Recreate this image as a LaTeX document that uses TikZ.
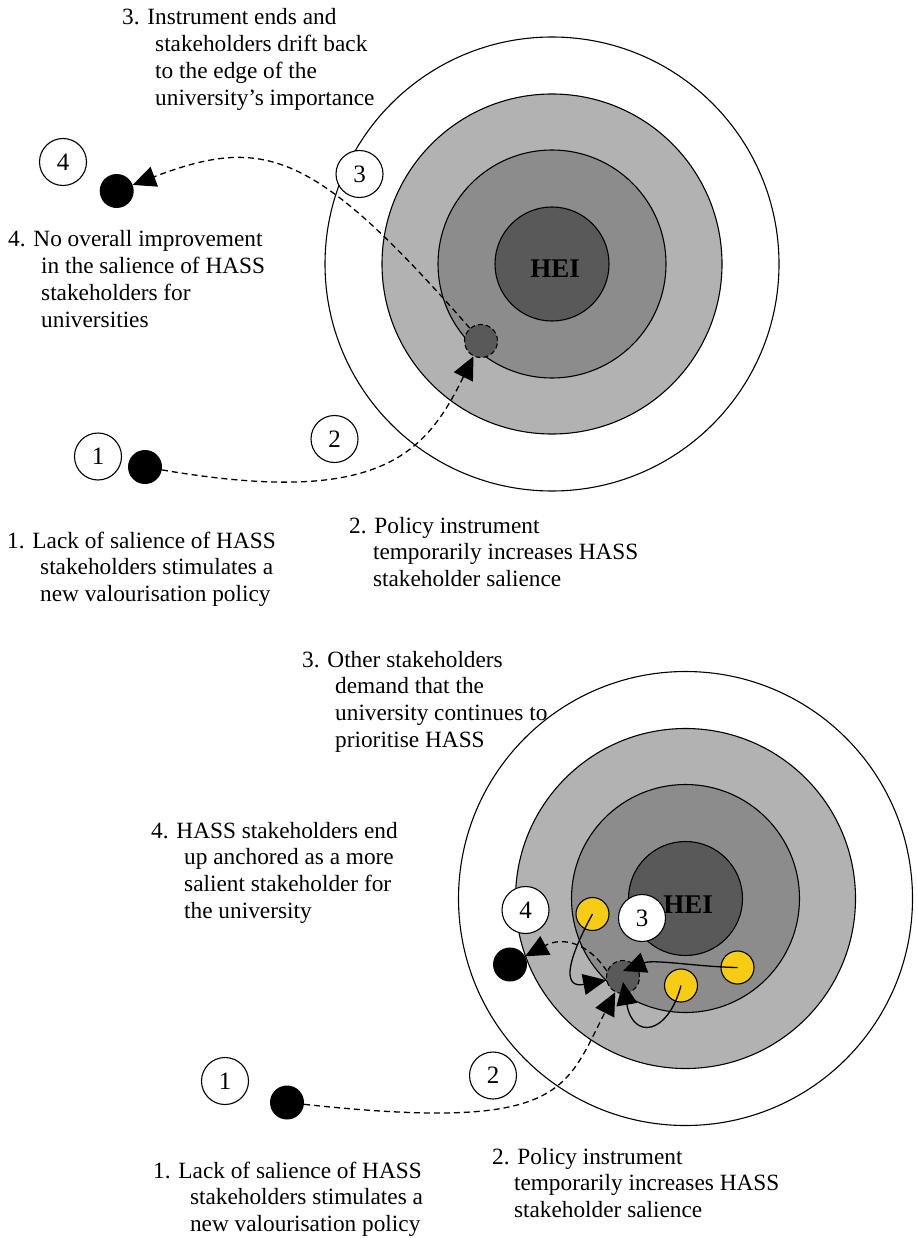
\documentclass[tikz,border=0pt]{standalone}
\usepackage{fontspec}
\setmainfont{Liberation Serif}
\usepackage{tikz}
\usetikzlibrary{arrows.meta}
\definecolor{ringlight}{gray}{0.70}
\definecolor{ringmid}{gray}{0.55}
\definecolor{ringcore}{gray}{0.35}
\definecolor{stakeyellow}{RGB}{247,204,21}
\newcommand{\ind}[1][33pt]{\hspace*{#1}}
\tikzset{
    ring/.style={shape=circle, draw=black, line width=1.1pt, inner sep=0pt},
    numbox/.style={shape=circle, draw=black, fill=white, line width=1.1pt, minimum size=47pt, inner sep=0pt, font=\fontsize{25}{25}\selectfont},
    blob/.style={shape=circle, fill=black, minimum size=34pt, inner sep=0pt},
    moved/.style={shape=circle, draw=black, dash pattern=on 5pt off 3pt, fill=ringcore, minimum size=33pt, inner sep=0pt, line width=1.1pt},
    yellowdot/.style={shape=circle, draw=black, fill=stakeyellow, minimum size=33pt, inner sep=0pt, line width=1.1pt},
    notes/.style={anchor=base west, align=left, inner sep=0pt, font=\fontsize{23.3}{26.8}\selectfont},
    heilabel/.style={anchor=base, inner sep=0pt, font=\fontsize{27}{27}\selectfont\bfseries},
    drift/.style={dash pattern=on 6pt off 4pt, line width=1.3pt, -{Triangle[length=23pt,width=21pt]}},
    pull/.style={line width=1.3pt, -{Triangle[length=23pt,width=21pt]}}
}

\begin{document}
\begin{tikzpicture}[x=1pt, y=-1pt]
        \useasboundingbox (0,0) rectangle (916,1238);

            \node[ring, minimum size=454pt] (outerT) at (552,264) {};
            \node[ring, fill=ringlight, minimum size=340pt] (lightT) at (552,264) {};
            \node[ring, fill=ringmid, minimum size=228pt] (midT) at (552,264) {};
            \node[ring, fill=ringcore, minimum size=114pt] (coreT) at (552,264) {};
            \node[heilabel] (heiT) at (555,278) {HEI};
            \node[moved] (movT) at (481,341) {};

            \node[numbox] (n4T) at (63,162) {4};
            \node[blob] (d4T) at (116.7,191) {};
            \node[numbox] (n3T) at (359.5,174) {3};
            \node[numbox] (n2T) at (334.5,439) {2};
            \node[numbox] (n1T) at (98,456.5) {1};
            \node[blob] (d1T) at (145,467) {};

            \draw[drift] (d1T) .. controls (379,507) and (425,455) .. (movT);
            \draw[drift] (movT) .. controls (314,150) and (264,135) .. (d4T);

            \node[notes] (t3T) at (122,105.4) {3. Instrument ends and\\\ind stakeholders drift back\\\ind to the edge of the\\\ind university’s importance};
            \node[notes] (t4T) at (8,327.4) {4. No overall improvement\\\ind in the salience of HASS\\\ind stakeholders for\\\ind universities};
            \node[notes] (t1T) at (7,601.6) {1. Lack of salience of HASS\\\ind stakeholders stimulates a\\\ind new valourisation policy};
            \node[notes] (t2T) at (349,586.6) {2. Policy instrument\\\ind[18pt] temporarily increases HASS\\\ind[18pt] stakeholder salience};

            \node[ring, minimum size=454pt] (outerB) at (685.5,898.5) {};
            \node[ring, fill=ringlight, minimum size=340pt] (lightB) at (685.5,898.5) {};
            \node[ring, fill=ringmid, minimum size=228pt] (midB) at (685.5,898.5) {};
            \node[ring, fill=ringcore, minimum size=114pt] (coreB) at (685.5,898.5) {};
            \node[heilabel] (heiB) at (688,913) {HEI};
            \node[yellowdot] (y1B) at (592.5,914) {};
            \node[yellowdot] (y2B) at (737.5,967.5) {};
            \node[yellowdot] (y3B) at (681,985.5) {};
            \node[moved] (movB) at (623,977) {};

            \node[numbox] (n4B) at (525.5,910) {4};
            \node[blob] (d4B) at (510,964.5) {};
            \node[numbox] (n3B) at (642,918) {3};
            \node[numbox] (n2B) at (493,1075.5) {2};
            \node[numbox] (n1B) at (225,1081) {1};
            \node[blob] (d1B) at (287,1102.5) {};

            \draw[drift] (d1B) .. controls (563,1132) and (564.5,1091.5) .. (movB);
            \draw[drift] (movB.160) .. controls (587,941) and (561,937) .. (d4B);
            \draw[pull] (y1B.center) .. controls (563,968) and (565,988) .. (movB);
            \draw[pull] (y2B.center) .. controls (700,967) and (654,959) .. ([yshift=6pt]movB.center);
            \draw[pull] (y3B.center) .. controls (668,1035) and (633,1040) .. ([yshift=-5pt]movB.center);

            \node[notes] (t3B) at (302,747.4) {3. Other stakeholders\\\ind demand that the\\\ind university continues to\\\ind prioritise HASS};
            \node[notes] (t4B) at (151,918.4) {4. HASS stakeholders end\\\ind up anchored as a more\\\ind salient stakeholder for\\\ind the university};
            \node[notes] (t1B) at (153,1231.6) {1. Lack of salience of HASS\\\ind[31pt] stakeholders stimulates a\\\ind[31pt] new valourisation policy};
            \node[notes] (t2B) at (492,1217.6) {2. Policy instrument\\\ind[16pt] temporarily increases HASS\\\ind[16pt] stakeholder salience};

        \end{tikzpicture}
\end{document}
